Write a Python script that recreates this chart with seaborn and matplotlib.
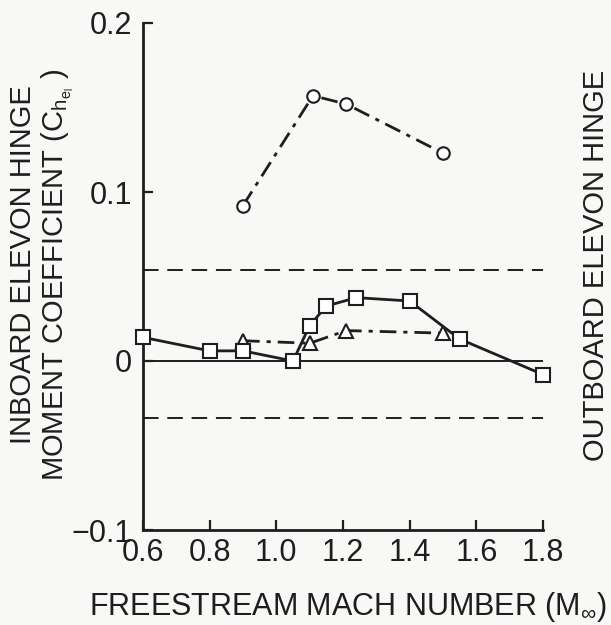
import matplotlib
matplotlib.use("Agg")
import pandas as pd
import seaborn as sns
import matplotlib.pyplot as plt

# Values
mach_sq = [0.6, 0.8, 0.9, 1.05, 1.1, 1.15, 1.24, 1.4, 1.55, 1.8]
chel_sq = [0.014, 0.006, 0.006, 0.0, 0.021, 0.0325, 0.0375, 0.0355, 0.013, -0.008]

mach_tri = [0.9, 1.1, 1.21, 1.5]
chel_tri = [0.012, 0.0105, 0.018, 0.0165]

mach_circ = [0.9, 1.11, 1.21, 1.5]
chel_circ = [0.092, 0.157, 0.152, 0.123]

limit_upper = 0.054
limit_lower = -0.034

x_ticks = [0.6, 0.8, 1.0, 1.2, 1.4, 1.6, 1.8]
y_ticks = [-0.1, 0.0, 0.1, 0.2]
y_tick_labels = ['\u22120.1', '0', '0.1', '0.2']

df_sq = pd.DataFrame({'mach': mach_sq, 'chel': chel_sq})
df_tri = pd.DataFrame({'mach': mach_tri, 'chel': chel_tri})
df_circ = pd.DataFrame({'mach': mach_circ, 'chel': chel_circ})

sns.set_theme(style='ticks')
plt.rcParams['font.family'] = ['Liberation Sans', 'DejaVu Sans']
plt.rcParams['mathtext.fontset'] = 'custom'
plt.rcParams['mathtext.rm'] = 'Liberation Sans'
plt.rcParams['mathtext.it'] = 'Liberation Sans'

ink = '#1e1e1e'
bg = '#f8f8f7'
fs = 22

fig = plt.figure(figsize=(6.11, 6.25), dpi=100, facecolor=bg)
ax = fig.add_axes([143/611, 1 - 530/625, 400/611, 507/625])
ax.set_facecolor(bg)

# reference lines
ax.axhline(0, color=ink, lw=1.4, zorder=1)
ax.axhline(limit_upper, color=ink, lw=1.4, ls=(0, (8, 4.5)), zorder=1)
ax.axhline(limit_lower, color=ink, lw=1.4, ls=(0, (8, 4.5)), zorder=1)

mk = dict(markerfacecolor='white', markeredgecolor=ink, markeredgewidth=1.5,
          color=ink, clip_on=False)

sns.lineplot(data=df_sq, x='mach', y='chel', ax=ax, marker='s', markersize=10,
             lw=2.0, zorder=3, **mk)
sns.lineplot(data=df_tri, x='mach', y='chel', ax=ax, marker='^', markersize=10,
             lw=2.0, ls=(0, (6, 2.5, 1.5, 2.5)), zorder=2, **mk)
sns.lineplot(data=df_circ, x='mach', y='chel', ax=ax, marker='o', markersize=9,
             lw=2.0, ls=(0, (6, 2.5, 1.5, 2.5)), zorder=2, **mk)

ax.set_xlim(0.6, 1.8)
ax.set_ylim(-0.1, 0.2)
ax.set_xticks(x_ticks)
ax.set_xticklabels([f'{v:.1f}' for v in x_ticks])
ax.set_yticks(y_ticks)
ax.set_yticklabels(y_tick_labels)
ax.tick_params(direction='in', length=7, width=1.6, colors=ink,
               labelsize=fs, pad=6)
ax.tick_params(axis='y', pad=8)

sns.despine(ax=ax)
for side in ['left', 'bottom']:
    ax.spines[side].set_linewidth(2.0)
    ax.spines[side].set_color(ink)

ax.set_xlabel('')
ax.set_ylabel('')

# axis titles (left one is two lines, right one is cut at the page edge)
fig.text(23/611, 1 - 265/625, 'INBOARD ELEVON HINGE', rotation=90,
         ha='center', va='center', fontsize=21, color=ink)
fig.text(58/611, 1 - 275/625,
         r'MOMENT COEFFICIENT (C$_{\mathrm{h}_{\mathrm{e}_{\mathrm{l}}}}$ )',
         rotation=90, ha='center', va='center', fontsize=21, color=ink)
fig.text(596/611, 1 - 265/625, 'OUTBOARD ELEVON HINGE', rotation=90,
         ha='center', va='center', fontsize=21, color=ink)
fig.text(348/611, 1 - 607/625, r'FREESTREAM MACH NUMBER (M$_\infty$)',
         ha='center', va='center', fontsize=fs, color=ink)

fig.savefig('out.png', dpi=100, facecolor=bg)
